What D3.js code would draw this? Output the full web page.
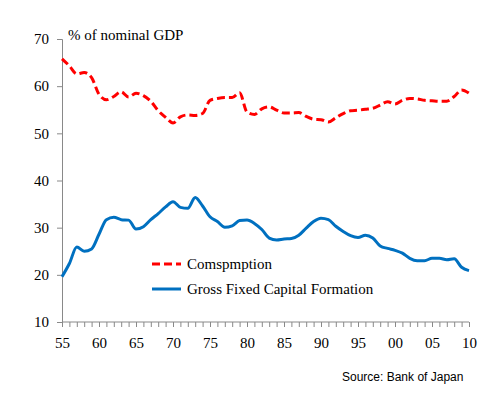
<!DOCTYPE html>
<html>
<head>
<meta charset="utf-8">
<script src="https://cdn.jsdelivr.net/npm/d3@7"></script>
<style>
  body { margin: 0; background: #fff; }
</style>
</head>
<body>
<div id="chart"></div>
<script>
// years 1955..2010
var years = d3.range(1955, 2011);

// % of nominal GDP
var consumption = [65.8, 64.3, 62.6, 62.9, 61.8, 58.3, 57.1, 57.8, 58.8, 57.7,
  58.5, 58.0, 56.8, 54.8, 53.4, 52.2, 53.5, 53.9, 53.8, 54.2,
  57.0, 57.4, 57.6, 57.6, 58.6, 54.5, 54.0, 55.2, 55.6, 54.9,
  54.3, 54.3, 54.4, 53.6, 53.0, 52.9, 52.4, 53.3, 54.2, 54.8,
  54.9, 55.1, 55.3, 56.0, 56.7, 56.2, 57.0, 57.4, 57.3, 57.0,
  56.9, 56.8, 56.8, 57.8, 59.2, 58.5];

var gfcf = [19.6, 22.4, 25.9, 25.0, 25.5, 28.6, 31.7, 32.2, 31.7, 31.6,
  29.7, 30.2, 31.7, 33.0, 34.4, 35.5, 34.3, 34.1, 36.4, 34.6,
  32.3, 31.3, 30.1, 30.4, 31.5, 31.6, 30.9, 29.6, 27.8, 27.4,
  27.6, 27.7, 28.4, 29.9, 31.3, 32.0, 31.7, 30.3, 29.2, 28.3,
  27.9, 28.4, 27.8, 26.1, 25.6, 25.2, 24.6, 23.5, 23.0, 23.0,
  23.5, 23.5, 23.2, 23.4, 21.6, 20.9];

var yTicks = [10, 20, 30, 40, 50, 60, 70];
var xTickYears = [1955, 1960, 1965, 1970, 1975, 1980, 1985, 1990, 1995, 2000, 2005, 2010];
var seriesNames = ["Comspmption", "Gross Fixed Capital Formation"];

var serif = "'Liberation Serif', 'DejaVu Serif', serif";
var width = 490, height = 396;
var margin = {top: 39, right: 21, bottom: 74, left: 62};

var svg = d3.select("#chart").append("svg")
    .attr("width", width)
    .attr("height", height);

var x = d3.scaleLinear().domain([1955, 2010]).range([margin.left, width - margin.right]);
var y = d3.scaleLinear().domain([10, 70]).range([height - margin.bottom, margin.top]);

// y axis
var yAxis = svg.append("g")
    .attr("transform", "translate(" + margin.left + ",0)")
    .call(d3.axisLeft(y).tickValues(yTicks).tickSize(5).tickPadding(8).tickFormat(d3.format("d")));
yAxis.selectAll("path, line").attr("stroke", "#898989");
yAxis.selectAll("text").style("font-family", serif).style("font-size", "15px").style("fill", "#000");

// x axis, a tick every year
var xAxis = svg.append("g")
    .attr("transform", "translate(0," + (height - margin.bottom) + ")")
    .call(d3.axisBottom(x).tickValues(years).tickSize(5).tickSizeOuter(0)
      .tickFormat(function(d) { return xTickYears.indexOf(d) >= 0 ? String(d).slice(2) : ""; })
      .tickPadding(10));
xAxis.selectAll("path, line").attr("stroke", "#898989");
xAxis.selectAll("text").style("font-family", serif).style("font-size", "15px").style("fill", "#000");
xAxis.select(".domain").attr("d", "M" + margin.left + ",0H" + (width - margin.right));

// lines
var line = d3.line()
    .x(function(d, i) { return x(years[i]); })
    .y(function(d) { return y(d); })
    .curve(d3.curveMonotoneX);

svg.append("path")
    .datum(consumption)
    .attr("fill", "none")
    .attr("stroke", "#ff0000")
    .attr("stroke-width", 3)
    .attr("stroke-dasharray", "8,4")
    .attr("d", line);

svg.append("path")
    .datum(gfcf)
    .attr("fill", "none")
    .attr("stroke", "#0070c0")
    .attr("stroke-width", 3)
    .attr("d", line);

// legend
var legend = svg.append("g");
var legendItems = [
  {name: seriesNames[0], color: "#ff0000", dash: "8,4", y: 264},
  {name: seriesNames[1], color: "#0070c0", dash: null, y: 289}
];
legendItems.forEach(function(d) {
  legend.append("line")
    .attr("x1", 152).attr("x2", 181)
    .attr("y1", d.y).attr("y2", d.y)
    .attr("stroke", d.color)
    .attr("stroke-width", 3)
    .attr("stroke-dasharray", d.dash);
  legend.append("text")
    .attr("x", 187).attr("y", d.y + 5)
    .style("font-family", serif)
    .style("font-size", "15px")
    .text(d.name);
});

// title
svg.append("text")
    .attr("x", 68).attr("y", 40)
    .style("font-family", serif)
    .style("font-size", "15px")
    .text("% of nominal GDP");

// source
svg.append("text")
    .attr("x", 342).attr("y", 381)
    .style("font-family", "'Liberation Sans', Arial, sans-serif")
    .style("font-size", "12px")
    .text("Source: Bank of Japan");
</script>
</body>
</html>
